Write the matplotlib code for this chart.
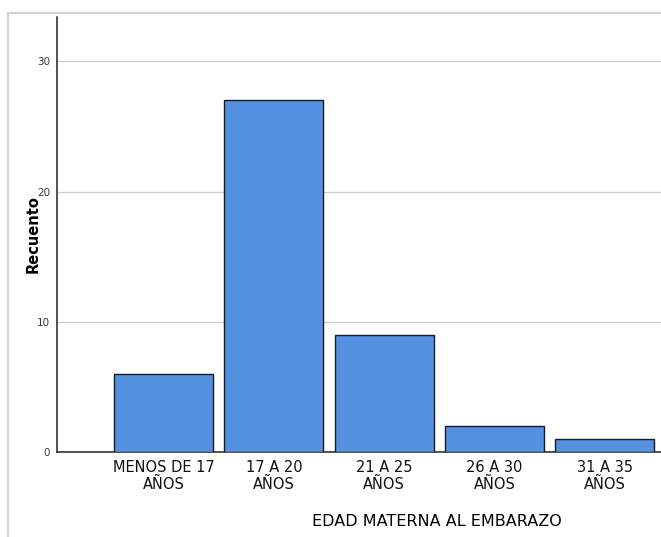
import matplotlib.pyplot as plt
from matplotlib.patches import Rectangle
import matplotlib.font_manager as fm

categories = ["MENOS DE 17\nAÑOS", "17 A 20\nAÑOS", "21 A 25\nAÑOS", "26 A 30\nAÑOS", "31 A 35\nAÑOS"]
counts = [6, 27, 9, 2, 1]
yticks = [0, 10, 20, 30]

names = {f.name for f in fm.fontManager.ttflist}
narrow = "Liberation Sans Narrow" if "Liberation Sans Narrow" in names else "DejaVu Sans"

W, H = 661, 537
fig = plt.figure(figsize=(W / 100, H / 100), dpi=100)

# gray outer frame (SPSS chart border)
fig.patches.append(Rectangle((8 / W, -0.1), 1.2, (H - 13) / H + 0.1, transform=fig.transFigure,
                             fill=False, edgecolor="#d3d3d3", linewidth=1.6, zorder=0))

ax = fig.add_axes([57 / W, (H - 452) / H, (W - 57) / W, (452 - 17) / H])
x = list(range(len(counts)))
ax.bar(x, counts, width=0.9, color="#5591e1", edgecolor="#1a1a1a", linewidth=1.0, zorder=3)

ax.set_xlim(-0.966, 4.51)
ax.set_ylim(0, 33.4)
ax.set_yticks(yticks)
ax.set_yticklabels([str(v) for v in yticks], fontsize=7.5, color="#333333")
ax.set_xticks(x)
ax.set_xticklabels(categories, fontsize=10.5, family=narrow, linespacing=1.15, color="#111111")
ax.tick_params(axis="both", length=0, pad=5)
ax.tick_params(axis="x", pad=6)
ax.grid(axis="y", color="#cccccc", linewidth=1.0, zorder=0)

for s in ["top", "right"]:
    ax.spines[s].set_visible(False)
ax.spines["left"].set_color("#333333")
ax.spines["bottom"].set_color("#333333")
ax.spines["left"].set_linewidth(1.2)
ax.spines["bottom"].set_linewidth(1.2)

ax.set_ylabel("Recuento", fontsize=10.5, fontweight="bold")
ax.yaxis.set_label_coords(-16 / (W - 57), 0.5)
ax.set_xlabel("EDAD MATERNA AL EMBARAZO", fontsize=11.5, family=narrow)
ax.xaxis.set_label_coords((437 - 57) / (W - 57), -62 / (452 - 17))

fig.savefig("out.png", dpi=100)
